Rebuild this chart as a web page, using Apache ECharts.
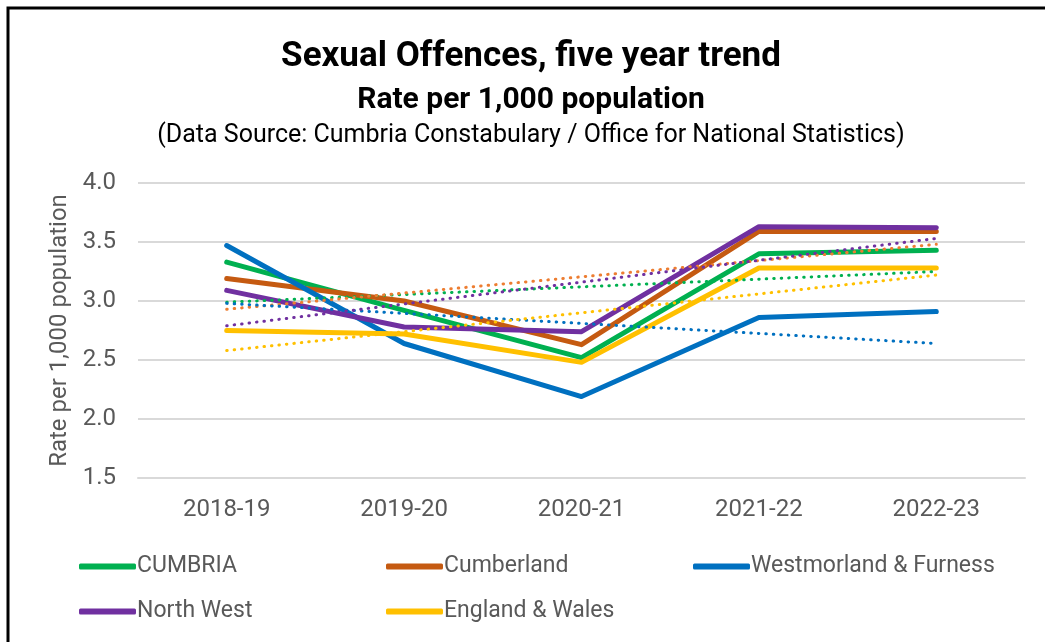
<!DOCTYPE html>
<html>
<head>
<meta charset="utf-8">
<title>Sexual Offences, five year trend</title>
<script src="https://cdn.jsdelivr.net/npm/echarts@6/dist/echarts.min.js"></script>
<style>
	html,body{margin:0;padding:0;background:#fff;}
	#chart{width:1045px;height:642px;}
</style>
</head>
<body>
<div id="chart"></div>
<script>
	var years = ['2018-19','2019-20','2020-21','2021-22','2022-23'];
	var yTicks = [1.5, 2.0, 2.5, 3.0, 3.5, 4.0];

	var cumbria = [3.33, 2.92, 2.52, 3.40, 3.43];
	var cumberland = [3.19, 3.00, 2.63, 3.59, 3.59];
	var westmorland = [3.47, 2.64, 2.19, 2.86, 2.91];
	var northWest = [3.09, 2.78, 2.74, 3.63, 3.62];
	var englandWales = [2.75, 2.72, 2.48, 3.28, 3.28];

	// linear trend lines, start / end values
	var trendStart = [2.99, 2.93, 2.98, 2.79, 2.58];
	var trendEnd = [3.25, 3.48, 2.64, 3.53, 3.22];

	var names = ['CUMBRIA','Cumberland','Westmorland & Furness','North West','England & Wales'];
	var colors = ['#00b050','#c55a11','#0070c0','#7030a0','#ffc000'];
	var trendColors = ['#00b050','#ed7d31','#0070c0','#7030a0','#ffc000'];
	var values = [cumbria, cumberland, westmorland, northWest, englandWales];

	var font = "'Roboto',sans-serif";

	var series = [];
	for(var i = 0; i < names.length; i++){
		series.push({
			name:names[i],
			type:'line',
			data:values[i],
			symbol:'none',
			z:2,
			lineStyle:{color:colors[i],width:5,cap:'round',join:'round'},
			itemStyle:{color:colors[i]}
		});
	}
	for(var i = 0; i < names.length; i++){
		series.push({
			name:'trend ' + names[i],
			type:'line',
			data:[trendStart[i], null, null, null, trendEnd[i]],
			connectNulls:true,
			symbol:'none',
			silent:true,
			z:3,
			lineStyle:{color:trendColors[i],width:3,type:[0.5,7],cap:'round'}
		});
	}

	// one legend per item so the columns line up
	var legendPos = [[74,550],[381,550],[688,550],[74,595],[381,595]];
	var legends = [];
	for(var i = 0; i < names.length; i++){
		legends.push({
			data:[{name:names[i],icon:'roundRect'}],
			left:legendPos[i][0],
			top:legendPos[i][1],
			itemWidth:57,
			itemHeight:6,
			itemGap:0,
			textStyle:{fontFamily:font,fontSize:23,color:'#595959',padding:[0,0,0,-4]}
		});
	}

	// title lines, centred a little right of the page middle like the original
	var titleLine = function(text, y, size, weight){
		return {
			type:'text',
			x:531,
			y:y,
			silent:true,
			style:{text:text,fill:'#000',font:weight + ' ' + size + 'px ' + font,
				textAlign:'center',textVerticalAlign:'middle'}
		};
	};

	var myChart = echarts.init(document.getElementById('chart'), null, {renderer:'canvas'});
	var option = {
		animation:false,
		backgroundColor:'#fff',
		graphic:[
			{
				type:'rect',
				shape:{x:8,y:8,width:1060,height:660},
				style:{fill:null,stroke:'#000',lineWidth:3},
				silent:true
			},
			titleLine('Sexual Offences, five year trend', 57, 35, 'bold'),
			titleLine('Rate per 1,000 population', 100, 30, 'bold'),
			titleLine('(Data Source: Cumbria Constabulary / Office for National Statistics)', 136, 25, 'normal')
		],
		legend:legends,
		grid:{left:138,right:20,top:183,bottom:164},
		xAxis:{
			type:'category',
			data:years,
			boundaryGap:true,
			axisTick:{show:false},
			axisLine:{lineStyle:{color:'#d9d9d9',width:2}},
			axisLabel:{fontFamily:font,fontSize:24,color:'#595959',margin:20}
		},
		yAxis:{
			type:'value',
			min:yTicks[0],
			max:yTicks[yTicks.length-1],
			interval:0.5,
			name:'Rate per 1,000 population',
			nameLocation:'middle',
			nameGap:66,
			nameTextStyle:{fontFamily:font,fontSize:24,color:'#595959'},
			axisLine:{show:false},
			axisTick:{show:false},
			axisLabel:{fontFamily:font,fontSize:24,color:'#595959',margin:22,
				formatter:function(v){return v.toFixed(1);}},
			splitLine:{lineStyle:{color:'#d9d9d9',width:2}}
		},
		series:series
	};
	myChart.setOption(option);
</script>
</body>
</html>
